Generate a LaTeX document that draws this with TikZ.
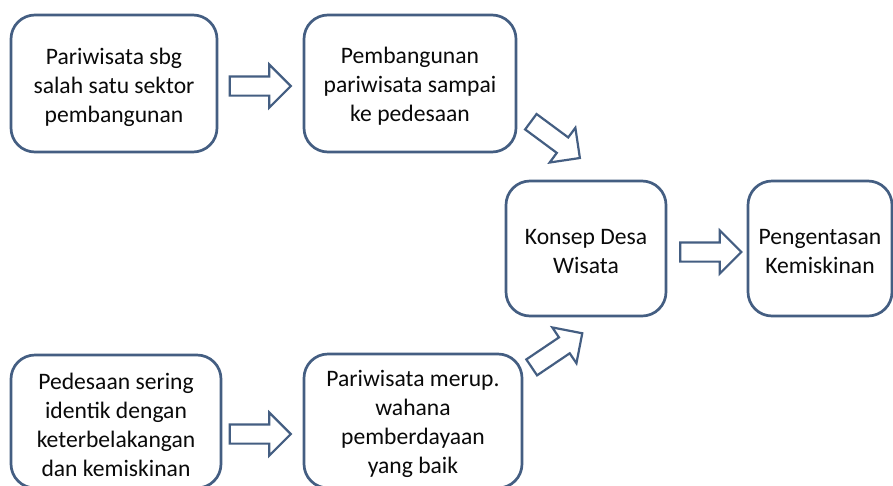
\documentclass[tikz,border=0pt]{standalone}
\usepackage{fontspec}
\setmainfont{Carlito}
\usetikzlibrary{shapes.arrows}
\definecolor{edge}{RGB}{68,94,130}
\definecolor{ink}{RGB}{10,10,10}
\tikzset{
  box/.style={draw=edge, line width=2.7pt, rounded corners=24pt, fill=white,
    inner sep=0pt},
  boxtext/.style={align=center, text=ink, inner sep=0pt,
    font=\fontsize{23.6}{29}\selectfont},
  blockarrow/.style={single arrow, draw=edge, line width=2.2pt, fill=white,
    inner xsep=0pt, inner ysep=8.5pt, minimum height=61pt, minimum width=0pt,
    single arrow head extend=12pt, single arrow head indent=0pt}
}
\begin{document}
\begin{tikzpicture}[x=1pt, y=-1pt]
\useasboundingbox (0,0) rectangle (893,485);
\clip (0,0) rectangle (893,485);
\fill[white] (0,0) rectangle (893,485);

% boxes
\node[box, minimum width=206pt, minimum height=137pt] (sektor) at (114,83.5) {};
\node[box, minimum width=212pt, minimum height=137pt] (desa) at (410,83.5) {};
\node[box, minimum width=160pt, minimum height=135pt] (konsep) at (586,248.5) {};
\node[box, minimum width=144pt, minimum height=135pt] (miskin) at (820,248.5) {};
\node[box, minimum width=210pt, minimum height=133pt] (sering) at (116,421.5) {};
\node[box, minimum width=218pt, minimum height=134pt] (wahana) at (413,421) {};

% texts, set a little below each box centre
\node[boxtext] (sektor-t) at ([yshift=-4pt]sektor.center)
  {Pariwisata sbg\\salah satu sektor\\pembangunan};
\node[boxtext] (desa-t) at ([yshift=-3pt]desa.center)
  {Pembangunan\\pariwisata sampai\\ke pedesaan};
\node[boxtext] (konsep-t) at ([yshift=-3pt]konsep.center)
  {Konsep Desa\\Wisata};
\node[boxtext] (miskin-t) at ([yshift=-3pt]miskin.center)
  {Pengentasan\\Kemiskinan};
\node[boxtext] (sering-t) at ([yshift=-3pt]sering.center)
  {Pedesaan sering\\identik dengan\\keterbelakangan\\dan kemiskinan};
\node[boxtext] (wahana-t) at ([yshift=-2.5pt]wahana.center)
  {Pariwisata merup.\\wahana\\pemberdayaan\\yang baik};

% block arrows between the boxes
\node[blockarrow] (a1) at (255.5,86) {};
\node[blockarrow] (a2) at (255.5,434) {};
\node[blockarrow] (a3) at (706,252) {};
\node[blockarrow, rotate=-36.5] (a4) at (551.5,137) {};
\node[blockarrow, rotate=34] (a5) at (553,353) {};
\end{tikzpicture}
\end{document}
